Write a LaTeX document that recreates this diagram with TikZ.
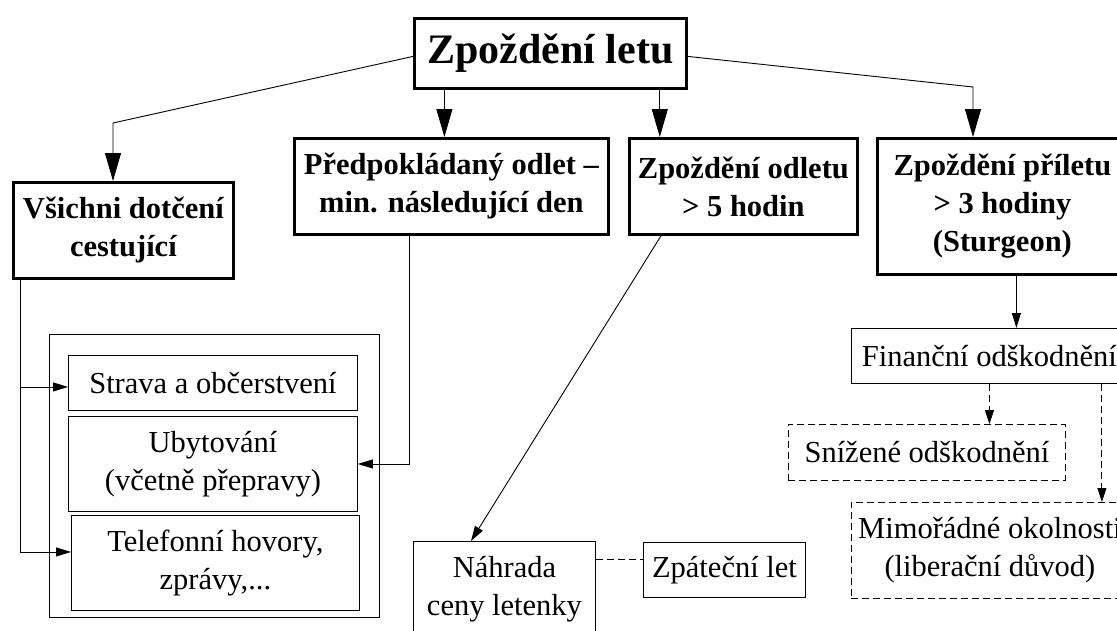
\documentclass[tikz,border=0pt]{standalone}
\usepackage{fontspec}
\setmainfont{Liberation Serif}
\usetikzlibrary{arrows.meta,calc}
\begin{document}
\begin{tikzpicture}[x=1pt,y=-1pt,
  box/.style={draw, rectangle, inner sep=0pt, anchor=north west, align=center, line width=0.9pt, font=\fontsize{30.5}{38}\selectfont},
  mainbox/.style={box, line width=2.8pt, font=\fontsize{30.5}{38}\selectfont\bfseries},
  dbox/.style={box, dash pattern=on 7pt off 4pt},
  conn/.style={line width=0.9pt},
  bigarr/.style={conn, -{Triangle[length=28pt,width=16pt]}},
  smarr/.style={conn, -{Triangle[length=15pt,width=9pt]}},
  darr/.style={conn, dash pattern=on 7pt off 4pt, -{Triangle[length=14pt,width=9pt]}},
  dline/.style={conn, dash pattern=on 7pt off 4pt}
]
\clip (0,0) rectangle (1117,630);
\fill[white] (0,0) rectangle (1117,630);

\node[mainbox, font=\fontsize{42}{48}\selectfont\bfseries, minimum width=272, minimum height=70] (top) at (413,17) {Zpoždění letu};
\node[mainbox, minimum width=220, minimum height=96] (vsi) at (12,181) {Všichni dotčení\\cestující};
\node[mainbox, minimum width=314, minimum height=96] (pred) at (293,137) {Předpokládaný odlet –\\min. následující den};
\node[mainbox, minimum width=228, minimum height=96] (odl) at (628,137) {Zpoždění odletu\\> 5 hodin};
\node[mainbox, minimum width=250, minimum height=136] (pri) at (876,137) {Zpoždění příletu\\> 3 hodiny\\(Sturgeon)};

\node[box, minimum width=330, minimum height=283] (grp) at (49,334) {};
\node[box, minimum width=289, minimum height=55] (str) at (68,355) {Strava a občerstvení};
\node[box, minimum width=289, minimum height=95] (uby) at (68,416) {Ubytování\\(včetně přepravy)};
\node[box, minimum width=288, minimum height=95] (tel) at (71,515) {Telefonní hovory,\\zprávy,...};
\node[box, minimum width=182, minimum height=95] (nah) at (413,541) {Náhrada\\ceny letenky};
\node[box, minimum width=162, minimum height=55] (zpa) at (643,542) {Zpáteční let};
\node[box, minimum width=276, minimum height=55] (fin) at (851,328) {Finanční odškodnění};
\node[dbox, minimum width=277, minimum height=56] (sni) at (788,424) {Snížené odškodnění};
\node[dbox, minimum width=277, minimum height=96] (mim) at (851,502) {Mimořádné okolnosti\\(liberační důvod)};

% top-level connectors
\coordinate (b1) at (113,123);
\draw[bigarr] ([yshift=-3pt]top.west) -- (b1) -- (b1 |- vsi.north);
\draw[bigarr] ([xshift=-7pt]pred.north |- top.south) -- ([xshift=-7pt]pred.north);
\draw[bigarr] ([xshift=-28pt]top.south east) -- ([xshift=-28pt]top.south east |- odl.north);
\coordinate (b2) at (973,87);
\draw[bigarr] ([yshift=-3pt]top.east) -- (b2) -- (b2 |- pri.north);

% all passengers
\coordinate (v0) at ([xshift=8pt]vsi.south west);
\draw[conn] (v0) -- ([yshift=11pt]tel.west -| v0);
\draw[smarr] ([yshift=-4pt]str.west -| v0) -- ([yshift=-4pt]str.west);
\draw[smarr] ([yshift=11pt]tel.west -| v0) -- ([yshift=11pt]tel.west);

% expected departure next day
\coordinate (p0) at ([xshift=-42pt]pred.south);
\draw[smarr] (p0) -- (p0 |- uby.east) -- (uby.east);

% departure delay > 5 h
\draw[smarr] ([xshift=33pt]odl.south west) -- ([xshift=58pt]nah.north west);
\draw[dline] ([yshift=11pt]zpa.west -| nah.east) -- ([yshift=11pt]zpa.west);

% arrival delay > 3 h
\draw[smarr] ([xshift=14pt]pri.south) -- ([xshift=14pt]pri.south |- fin.north);
\draw[darr] (fin.south) -- (fin.south |- sni.north);
\draw[darr] ([xshift=-26pt]fin.south east) -- ([xshift=-26pt]fin.south east |- mim.north);
\end{tikzpicture}
\end{document}
